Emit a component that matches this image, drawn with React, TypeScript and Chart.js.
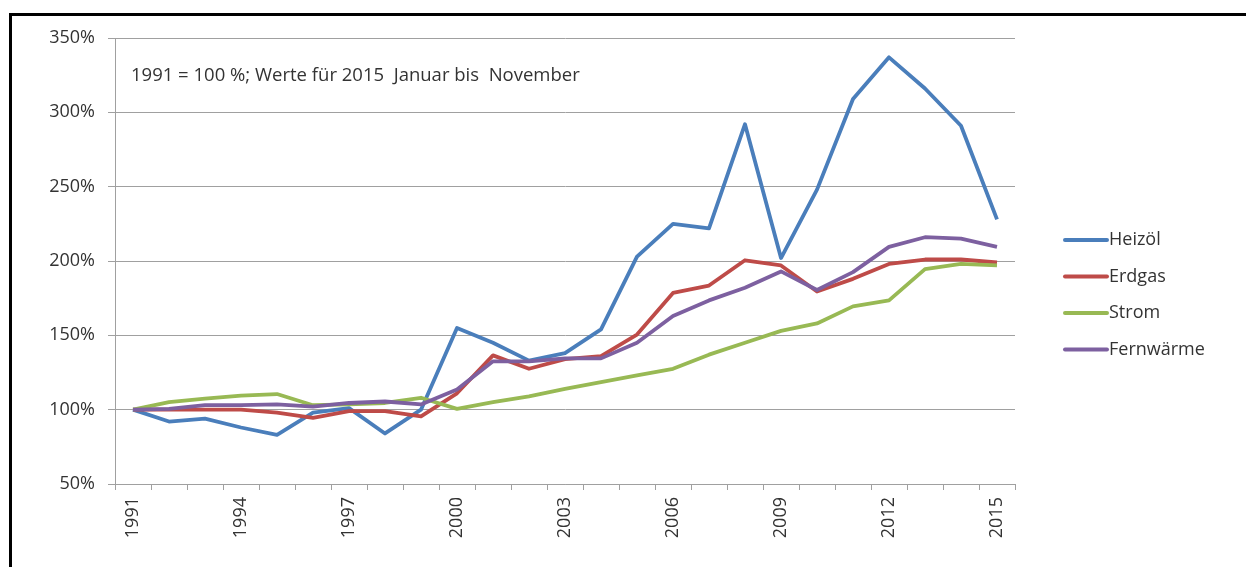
import React, { useEffect, useRef } from "react";
import { Chart, registerables } from "chart.js";

Chart.register(...registerables);

const years = [
  "1991", "1992", "1993", "1994", "1995", "1996", "1997", "1998", "1999", "2000",
  "2001", "2002", "2003", "2004", "2005", "2006", "2007", "2008", "2009", "2010",
  "2011", "2012", "2013", "2014", "2015",
];

const heizoel = [100, 92, 94, 88, 83, 98, 101, 84, 100, 155, 145, 133, 138, 154, 203, 225, 222, 292, 202, 248, 309, 337, 316, 291, 228];
const erdgas = [100, 100, 100, 100, 98, 94.5, 99, 99, 95.5, 111, 136.5, 127.5, 134, 136, 150.5, 178.5, 183.5, 200.5, 197, 179.5, 188, 198, 201, 201, 199];
const strom = [100, 105, 107.5, 109.5, 110.5, 103, 103.5, 104.5, 108, 100.5, 105, 109, 114, 118.5, 123, 127.5, 137, 145, 153, 158, 169.5, 173.5, 194.5, 198, 197];
const fernwaerme = [100, 100.5, 103, 103, 103.5, 102, 104.5, 105.5, 103.5, 113.5, 132.5, 132.5, 134.5, 134.5, 145, 163, 173.5, 182, 193, 180.5, 192.5, 209.5, 216, 215, 209.5];

const seriesNames = ["Heizöl", "Erdgas", "Strom", "Fernwärme"];
const seriesColors = ["#4A7EBB", "#BE4B48", "#98B954", "#7D60A0"];
const noteText = "1991 = 100 %; Werte für 2015  Januar bis  November";

const FONT = "'Open Sans', 'DejaVu Sans', sans-serif";
const TEXT_COLOR = "#333333";
const GRID_COLOR = "#a0a0a0";

const overlayPlugin = {
  id: "overlay",
  afterDraw(chart: any) {
    const ctx = chart.ctx;
    ctx.save();
    ctx.font = `18.5px ${FONT}`;
    ctx.fillStyle = TEXT_COLOR;
    ctx.textBaseline = "alphabetic";
    ctx.textAlign = "left";
    ctx.fillText(noteText, 131, 81);

    // legend
    ctx.font = `18px ${FONT}`;
    const ds = chart.data.datasets;
    ds.forEach((d: any, i: number) => {
      const y = 240 + i * 36.5;
      ctx.strokeStyle = d.borderColor;
      ctx.lineWidth = 4;
      ctx.lineCap = "round";
      ctx.beginPath();
      ctx.moveTo(1065, y);
      ctx.lineTo(1107, y);
      ctx.stroke();
      ctx.fillStyle = TEXT_COLOR;
      ctx.textBaseline = "middle";
      ctx.fillText(d.label, 1109, y);
    });
    ctx.restore();
  },
};

export default function App() {
  const ref = useRef<HTMLCanvasElement | null>(null);

  useEffect(() => {
    if (!ref.current) return;
    const values = [heizoel, erdgas, strom, fernwaerme];
    const chart = new Chart(ref.current, {
      type: "line",
      data: {
        labels: years,
        datasets: values.map((v, i) => ({
          label: seriesNames[i],
          data: v,
          borderColor: seriesColors[i],
          backgroundColor: seriesColors[i],
          borderWidth: 3.8,
          pointRadius: 0,
          tension: 0,
          fill: false,
          order: 3 - i,
          borderJoinStyle: "round" as const,
        })),
      },
      options: {
        responsive: false,
        animation: false,
        devicePixelRatio: 1,
        layout: { padding: { left: 0, top: 38, right: 231, bottom: 23 } },
        plugins: {
          legend: { display: false },
          tooltip: { enabled: false },
          title: { display: false },
        },
        scales: {
          x: {
            type: "category",
            offset: true,
            grid: {
              offset: true,
              drawOnChartArea: false,
              drawTicks: true,
              tickLength: 6,
              color: GRID_COLOR,
            },
            border: { color: GRID_COLOR, width: 1 },
            ticks: {
              autoSkip: false,
              minRotation: 90,
              maxRotation: 90,
              padding: 7,
              color: TEXT_COLOR,
              font: { family: FONT, size: 18 },
              callback: (_v: any, i: number) => (i % 3 === 0 ? years[i] : ""),
            },
            afterFit: (scale: any) => {
              scale.height = 60;
            },
          },
          y: {
            min: 50,
            max: 350,
            grid: {
              color: GRID_COLOR,
              drawTicks: true,
              tickLength: 7,
            },
            border: { color: GRID_COLOR, width: 1 },
            ticks: {
              stepSize: 50,
              padding: 13,
              color: TEXT_COLOR,
              font: { family: FONT, size: 18 },
              callback: (v: any) => `${v}%`,
            },
            afterFit: (scale: any) => {
              scale.width = 115;
            },
          },
        },
      },
      plugins: [overlayPlugin],
    });
    return () => chart.destroy();
  }, []);

  return (
    <div
      style={{
        position: "fixed",
        left: 0,
        top: 0,
        width: 1246,
        height: 567,
        overflow: "hidden",
        background: "#ffffff",
      }}
    >
      <div
        style={{
          position: "absolute",
          left: 9,
          top: 13,
          width: 1300,
          height: 600,
          border: "3px solid #000",
          boxSizing: "border-box",
        }}
      />
      <canvas
        ref={ref}
        width={1246}
        height={567}
        style={{ position: "absolute", left: 0, top: 0, width: 1246, height: 567 }}
      />
    </div>
  );
}
